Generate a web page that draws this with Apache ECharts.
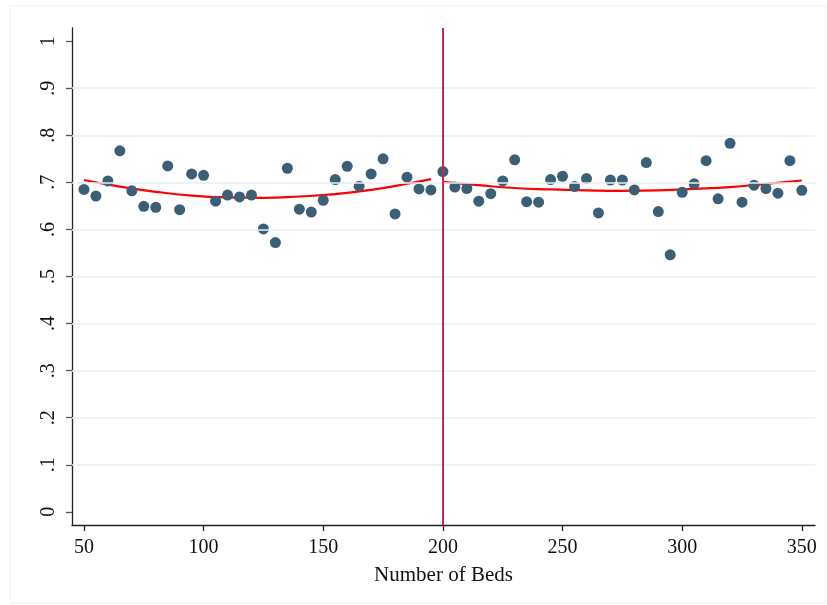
<!DOCTYPE html>
<html>
<head>
<meta charset="utf-8">
<script src="https://cdn.jsdelivr.net/npm/echarts@6/dist/echarts.min.js"></script>
<style>
html,body{margin:0;padding:0;background:#fff;}
#c{width:827px;height:605px;}
</style>
</head>
<body>
<div id="c"></div>
<script>
// ---- data ----
const beds = [50,55,60,65,70,75,80,85,90,95,100,105,110,115,120,125,130,135,140,145,150,155,160,165,170,175,180,185,190,195,
              200,205,210,215,220,225,230,235,240,245,250,255,260,265,270,275,280,285,290,295,300,305,310,315,320,325,330,335,340,345,350];
const share = [0.685,0.671,0.703,0.767,0.682,0.649,0.647,0.735,0.642,0.718,0.715,0.660,0.673,0.669,0.673,0.601,0.572,0.730,0.643,0.637,
               0.662,0.706,0.734,0.692,0.718,0.750,0.633,0.711,0.686,0.684,
               0.723,0.690,0.687,0.660,0.676,0.703,0.748,0.659,0.658,0.706,0.713,0.691,0.708,0.635,0.705,0.705,0.684,0.742,0.638,0.546,
               0.679,0.697,0.746,0.665,0.783,0.658,0.694,0.687,0.677,0.746,0.683];
const fitLeftX  = [50,65,80,95,110,125,140,155,170,185,195];
const fitLeftY  = [0.705,0.691,0.680,0.672,0.668,0.667,0.670,0.675,0.684,0.697,0.707];
const fitRightX = [200,215,230,245,260,275,290,305,320,335,350];
const fitRightY = [0.701,0.694,0.688,0.685,0.683,0.682,0.683,0.686,0.690,0.697,0.704];
const cutoff = 200;
const xTicks = [50,100,150,200,250,300,350];
const yTicks = [0,0.1,0.2,0.3,0.4,0.5,0.6,0.7,0.8,0.9,1];
const yTickLabels = ['0','.1','.2','.3','.4','.5','.6','.7','.8','.9','1'];
const gridValues = [0.1,0.2,0.3,0.4,0.5,0.6,0.7,0.8,0.9];
const xName = 'Number of Beds';

// ---- chart ----
const FONT = '"Liberation Serif", "DejaVu Serif", serif';
const chart = echarts.init(document.getElementById('c'), null, {renderer:'canvas'});
const pts = beds.map((b,i)=>[b, share[i]]);
const left = fitLeftX.map((x,i)=>[x, fitLeftY[i]]);
const right = fitRightX.map((x,i)=>[x, fitRightY[i]]);
const labelMap = {};
yTicks.forEach((v,i)=>{ labelMap[v.toFixed(1)] = yTickLabels[i]; });

chart.setOption({
  animation:false,
  backgroundColor:'#ffffff',
  graphic:[{
    type:'rect', shape:{x:10.5,y:5.5,width:815,height:598},
    style:{fill:'none', stroke:'#eef3f5', lineWidth:1}, z:-10
  }],
  grid:{left:72, right:12, top:28, bottom:80, containLabel:false},
  xAxis:{
    type:'value', min:45, max:355.5,
    name:xName, nameLocation:'middle', nameGap:40,
    nameTextStyle:{fontFamily:FONT, fontSize:21, color:'#111'},
    axisLine:{show:true, onZero:false, lineStyle:{color:'#222', width:1.3}},
    axisTick:{show:true, length:6, customValues:xTicks, lineStyle:{color:'#222', width:1.3}},
    axisLabel:{show:true, customValues:xTicks, margin:13, fontFamily:FONT, fontSize:20, color:'#111'},
    splitLine:{show:false}
  },
  yAxis:{
    type:'value', min:-0.028, max:1.028,
    axisLine:{show:true, onZero:false, lineStyle:{color:'#222', width:1.3}},
    axisTick:{show:true, length:6, customValues:yTicks, lineStyle:{color:'#555', width:1.3}},
    axisLabel:{show:true, customValues:yTicks, rotate:90, margin:13, fontFamily:FONT, fontSize:20, color:'#111',
      formatter:(v)=> labelMap[(Math.round(v*10)/10).toFixed(1)] ?? ''},
    splitLine:{show:false}
  },
  series:[
    {
      type:'line', data:[], z:1, silent:true,
      markLine:{
        silent:true, symbol:'none', animation:false,
        label:{show:false},
        lineStyle:{color:'#e9f0f2', width:1.5, type:'solid'},
        data: gridValues.map(v=>({yAxis:v}))
      }
    },
    {
      type:'line', data:[], z:2, silent:true,
      markLine:{
        silent:true, symbol:'none', animation:false,
        label:{show:false},
        lineStyle:{color:'#c42a52', width:2, type:'solid'},
        data:[{xAxis:cutoff}]
      }
    },
    {
      type:'line', data:left, z:3, smooth:true, symbol:'none',
      lineStyle:{color:'#ff0000', width:2.2}
    },
    {
      type:'line', data:right, z:3, smooth:true, symbol:'none',
      lineStyle:{color:'#ff0000', width:2.2}
    },
    {
      type:'scatter', data:pts, z:4, symbol:'circle', symbolSize:11,
      itemStyle:{color:'#3c5f78', opacity:1}
    }
  ]
});
</script>
</body>
</html>
